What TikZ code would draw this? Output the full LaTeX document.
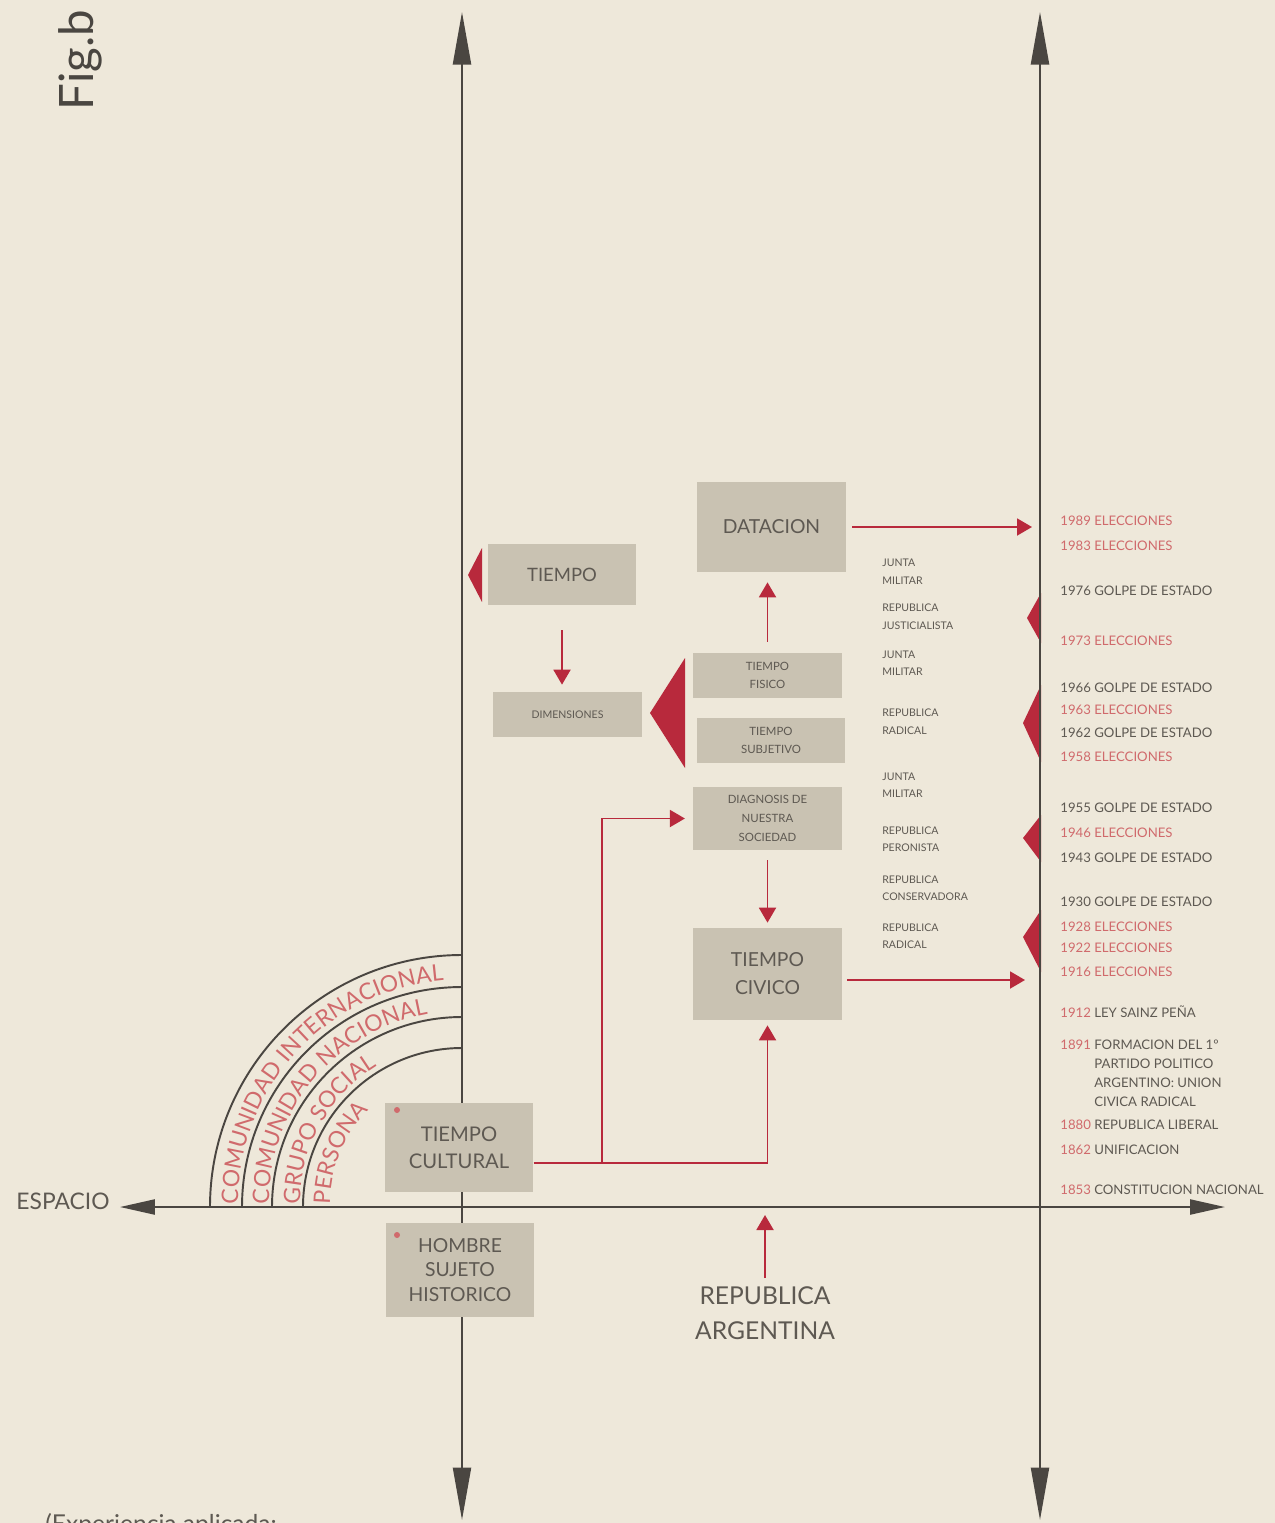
\documentclass[tikz,border=0pt]{standalone}
\usepackage{fontspec}
\setmainfont{Lato}
\usetikzlibrary{arrows.meta,decorations.text}

\definecolor{fondo}{HTML}{EEE8DA}
\definecolor{gris}{HTML}{C9C2B2}
\definecolor{tinta}{HTML}{5E5952}
\definecolor{oscuro}{HTML}{4A4641}
\definecolor{rojo}{HTML}{B8293C}
\definecolor{rosa}{HTML}{D06A6C}

\newcommand\arcfont{\fontsize{13}{14}\selectfont}

\tikzset{
  puntaeje/.tip={Triangle[length=10.5mm,width=3.6mm]},
  puntah/.tip={Triangle[length=7mm,width=3mm]},
  linea eje/.style={draw=oscuro, line width=1.3pt},
  flecha roja/.style={draw=rojo, line width=1.1pt, -{Triangle[length=3mm,width=3.4mm]}},
  caja gris/.style={fill=gris, text=tinta, align=center, inner sep=0pt,
    minimum width=29.7mm},
  periodo/.style={anchor=west, align=left, inner sep=0pt, text=tinta,
    font=\fontsize{6}{10}\selectfont},
  fecha/.style={anchor=west, inner sep=0pt, text=tinta,
    font=\fontsize{7.5}{10.8}\selectfont},
  rotulo/.style={text=tinta, align=center, inner sep=0pt}
}

\begin{document}
\begin{tikzpicture}[x=0.2mm,y=-0.2mm]
\clip (0,0) rectangle (1275,1523);
\fill[fondo] (0,0) rectangle (1275,1523);

% ends of the axes
\coordinate (arribaI) at (462,12);
\coordinate (abajoI) at (462,1520);
\coordinate (arribaD) at (1040,12);
\coordinate (abajoD) at (1040,1520);
\coordinate (derecha) at (1225,1207);
\coordinate (centro) at (462,1207);

% red wedges
\fill[rojo] (468,575) -- (482,548) -- (482,602) -- cycle;
\fill[rojo] (650,713) -- (685,658) -- (685,768) -- cycle;
\fill[rojo] (1027,618) -- (1041,593) -- (1041,643) -- cycle;
\fill[rojo] (1023,723) -- (1041,685) -- (1041,762) -- cycle;
\fill[rojo] (1023,838) -- (1041,815) -- (1041,862) -- cycle;
\fill[rojo] (1023,937) -- (1041,910) -- (1041,972) -- cycle;

\node[rotulo, font=\fontsize{13}{15}\selectfont, inner sep=2mm] (espacio) at (63,1201) {ESPACIO};

\draw[linea eje, puntaeje-puntaeje] (arribaI) -- (abajoI);
\draw[linea eje, puntaeje-puntaeje] (arribaD) -- (abajoD);
\draw[linea eje, puntah-puntah] (espacio.east |- derecha) -- (derecha);

% circles of space
\draw[oscuro, line width=1.1pt] (462-252,1207) arc[start angle=180, end angle=270, radius=252];
\draw[oscuro, line width=1.1pt] (462-220,1207) arc[start angle=180, end angle=270, radius=220];
\draw[oscuro, line width=1.1pt] (462-190,1207) arc[start angle=180, end angle=270, radius=190];
\draw[oscuro, line width=1.1pt] (462-159,1207) arc[start angle=180, end angle=270, radius=159];
\path[decorate, decoration={text along path, text color=rosa, text={|\arcfont|COMUNIDAD INTERNACIONAL}}]
  (462-224,1204) arc[start angle=180, end angle=270, radius=224];
\path[decorate, decoration={text along path, text color=rosa, text={|\arcfont|COMUNIDAD NACIONAL}}]
  (462-193,1204) arc[start angle=180, end angle=270, radius=193];
\path[decorate, decoration={text along path, text color=rosa, text={|\arcfont|GRUPO SOCIAL}}]
  (462-162,1204) arc[start angle=180, end angle=270, radius=162];
\path[decorate, decoration={text along path, text color=rosa, text={|\arcfont|PERSONA}}]
  (462-132,1204) arc[start angle=180, end angle=270, radius=132];

% boxes
\node[caja gris, minimum height=18mm, font=\fontsize{11}{13}\selectfont] (datacion) at (771.5,527) {DATACION};
\node[caja gris, minimum height=12.2mm, font=\fontsize{10.5}{12}\selectfont] (tiempo) at (562,574.5) {TIEMPO};
\node[caja gris, minimum height=9mm, font=\fontsize{6}{8}\selectfont] (dimensiones) at (567.5,714.5) {DIMENSIONES};
\node[caja gris, minimum height=9mm, font=\fontsize{6.5}{10}\selectfont] (fisico) at (767.5,675.5) {TIEMPO\\FISICO};
\node[caja gris, minimum height=9mm, font=\fontsize{6.5}{10}\selectfont] (subjetivo) at (771,740.5) {TIEMPO\\SUBJETIVO};
\node[caja gris, minimum height=12.6mm, font=\fontsize{6.5}{11}\selectfont] (diagnosis) at (767.5,818.5) {DIAGNOSIS DE\\NUESTRA\\SOCIEDAD};
\node[caja gris, minimum height=18.4mm, font=\fontsize{11}{16}\selectfont] (civico) at (767.5,974) {TIEMPO\\CIVICO};
\node[caja gris, minimum height=17.8mm, font=\fontsize{11.5}{15.5}\selectfont] (cultural) at (459,1147.5) {TIEMPO\\CULTURAL};
\node[caja gris, minimum height=18.8mm, font=\fontsize{11}{14}\selectfont] (hombre) at (460,1270) {HOMBRE\\SUJETO\\HISTORICO};
\fill[rosa] (397,1110) circle (3);
\fill[rosa] (397,1235) circle (3);

\node[rotulo, font=\fontsize{14}{20}\selectfont, inner sep=1.6mm] (republica) at (765,1313) {REPUBLICA\\ARGENTINA};

% red connectors
\coordinate (finD) at (1032,527);
\coordinate (finC) at (1025,980);
\coordinate (rama) at (602,1163);
\draw[flecha roja, shorten <=1.2mm] (datacion.east) -- (finD);
\draw[flecha roja, shorten <=1mm] (civico.east |- finC) -- (finC);
\draw[flecha roja, shorten <=2.2mm, shorten >=2mm] (fisico.north) -- (fisico.north |- datacion.south);
\draw[flecha roja, shorten <=5mm, shorten >=1.4mm] (tiempo.south) -- (tiempo.south |- dimensiones.north);
\draw[flecha roja, shorten <=2mm, shorten >=1mm] (diagnosis.south) -- (civico.north);
\draw[flecha roja, shorten >=1mm] (cultural.east |- rama) -| (civico.south);
\draw[flecha roja, shorten >=1.6mm] (rama) |- (diagnosis.west);
\draw[flecha roja, shorten >=1.6mm] (republica.north) -- (republica.north |- centro);

% periods
\node[periodo] (p1) at (882,572) {JUNTA\\MILITAR};
\node[periodo] (p2) at (882,617) {REPUBLICA\\JUSTICIALISTA};
\node[periodo] (p3) at (882,663) {JUNTA\\MILITAR};
\node[periodo] (p4) at (882,722) {REPUBLICA\\RADICAL};
\node[periodo] (p5) at (882,785) {JUNTA\\MILITAR};
\node[periodo] (p6) at (882,839) {REPUBLICA\\PERONISTA};
\node[periodo] (p7) at (882,888) {REPUBLICA\\CONSERVADORA};
\node[periodo] (p8) at (882,936) {REPUBLICA\\RADICAL};

% dates
\node[fecha, text=rosa] (e89) at (1060,521) {1989 ELECCIONES};
\node[fecha, text=rosa] (e83) at (1060,546) {1983 ELECCIONES};
\node[fecha] (g76) at (1060,591) {1976 GOLPE DE ESTADO};
\node[fecha, text=rosa] (e73) at (1060,641) {1973 ELECCIONES};
\node[fecha] (g66) at (1060,688) {1966 GOLPE DE ESTADO};
\node[fecha, text=rosa] (e63) at (1060,710) {1963 ELECCIONES};
\node[fecha] (g62) at (1060,733) {1962 GOLPE DE ESTADO};
\node[fecha, text=rosa] (e58) at (1060,757) {1958 ELECCIONES};
\node[fecha] (g55) at (1060,808) {1955 GOLPE DE ESTADO};
\node[fecha, text=rosa] (e46) at (1060,833) {1946 ELECCIONES};
\node[fecha] (g43) at (1060,858) {1943 GOLPE DE ESTADO};
\node[fecha] (g30) at (1060,902) {1930 GOLPE DE ESTADO};
\node[fecha, text=rosa] (e28) at (1060,927) {1928 ELECCIONES};
\node[fecha, text=rosa] (e22) at (1060,948) {1922 ELECCIONES};
\node[fecha, text=rosa] (e16) at (1060,972) {1916 ELECCIONES};
\node[fecha] (l12) at (1060,1012) {\textcolor{rosa}{1912} LEY SAINZ PEÑA};
\node[fecha, anchor=north west] (f91) at (1060,1036) {\begin{tabular}{@{}l@{ }l@{}}\textcolor{rosa}{1891} & FORMACION DEL 1º\\ & PARTIDO POLITICO\\ & ARGENTINO: UNION\\ & CIVICA RADICAL\end{tabular}};
\node[fecha] (r80) at (1060,1125) {\textcolor{rosa}{1880} REPUBLICA LIBERAL};
\node[fecha] (u62) at (1060,1150) {\textcolor{rosa}{1862} UNIFICACION};
\node[fecha] (c53) at (1060,1190) {\textcolor{rosa}{1853} CONSTITUCION NACIONAL};

\node[rotulo, rotate=90, text=oscuro, font=\fontsize{27}{29}\selectfont] (fig) at (80,60) {Fig.b};
\node[rotulo, anchor=base west, font=\fontsize{14}{16}\selectfont] (nota) at (45,1532) {(Experiencia aplicada:};
\end{tikzpicture}
\end{document}
